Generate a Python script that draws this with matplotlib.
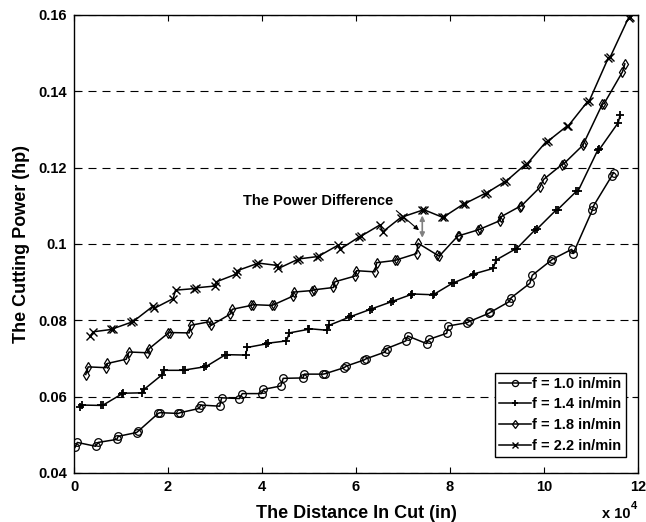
import numpy as np
import matplotlib.pyplot as plt

plt.rcParams['font.family'] = ['Liberation Sans', 'DejaVu Sans']
plt.rcParams['font.weight'] = 'bold'

# distance in cut, in units of 10^4 in ; cutting power in hp
dist_f10 = [0.02, 0.07, 0.46, 0.51, 0.91, 0.94, 1.33, 1.37, 1.79, 1.83, 2.22, 2.26, 2.66, 2.70,
            3.10, 3.14, 3.52, 3.58, 3.99, 4.03, 4.40, 4.45, 4.87, 4.90, 5.30, 5.34, 5.75, 5.79,
            6.17, 6.21, 6.62, 6.65, 7.06, 7.10, 7.50, 7.55, 7.93, 7.96, 8.37, 8.41, 8.82, 8.86,
            9.26, 9.30, 9.70, 9.75, 10.14, 10.18, 10.59, 10.62, 11.03, 11.05, 11.44, 11.48]
power_f10 = [0.0467, 0.0480, 0.0470, 0.0480, 0.0488, 0.0496, 0.0506, 0.0510, 0.0556, 0.0558,
             0.0556, 0.0558, 0.0569, 0.0578, 0.0575, 0.0597, 0.0595, 0.0608, 0.0608, 0.0619,
             0.0628, 0.0648, 0.0649, 0.0659, 0.0659, 0.0660, 0.0676, 0.0680, 0.0696, 0.0699,
             0.0717, 0.0726, 0.0746, 0.0759, 0.0739, 0.0750, 0.0766, 0.0785, 0.0794, 0.0797,
             0.0818, 0.0821, 0.0849, 0.0859, 0.0897, 0.0918, 0.0956, 0.0960, 0.0986, 0.0975,
             0.1089, 0.1099, 0.1178, 0.1187]

dist_f14 = [0.13, 0.16, 0.58, 0.62, 1.03, 1.05, 1.45, 1.49, 1.88, 1.91, 2.32, 2.36, 2.77, 2.81,
            3.21, 3.25, 3.65, 3.69, 4.08, 4.12, 4.52, 4.58, 4.97, 5.01, 5.38, 5.43, 5.85, 5.89,
            6.29, 6.33, 6.74, 6.78, 7.16, 7.20, 7.63, 7.67, 8.05, 8.09, 8.48, 8.52, 8.92, 8.98,
            9.38, 9.42, 9.81, 9.85, 10.25, 10.29, 10.69, 10.73, 11.14, 11.18, 11.58, 11.62]
power_f14 = [0.0572, 0.0578, 0.0577, 0.0578, 0.0608, 0.0609, 0.0610, 0.0619, 0.0658, 0.0669,
             0.0669, 0.0670, 0.0678, 0.0679, 0.0709, 0.0710, 0.0709, 0.0729, 0.0738, 0.0740,
             0.0746, 0.0767, 0.0776, 0.0778, 0.0774, 0.0787, 0.0808, 0.0810, 0.0828, 0.0830,
             0.0848, 0.0850, 0.0867, 0.0869, 0.0867, 0.0869, 0.0897, 0.0899, 0.0919, 0.0922,
             0.0936, 0.0958, 0.0986, 0.0988, 0.1037, 0.1039, 0.1088, 0.1090, 0.1138, 0.1140,
             0.1245, 0.1248, 0.1318, 0.1338]

dist_f18 = [0.25, 0.30, 0.67, 0.71, 1.11, 1.17, 1.56, 1.60, 2.00, 2.04, 2.45, 2.48, 2.87, 2.92,
            3.32, 3.37, 3.77, 3.81, 4.21, 4.25, 4.65, 4.67, 5.07, 5.11, 5.52, 5.55, 5.98, 6.01,
            6.40, 6.44, 6.84, 6.88, 7.29, 7.32, 7.73, 7.77, 8.16, 8.20, 8.60, 8.64, 9.06, 9.08,
            9.48, 9.52, 9.91, 9.99, 10.38, 10.42, 10.83, 10.85, 11.24, 11.28, 11.67, 11.72]
power_f18 = [0.0658, 0.0678, 0.0676, 0.0687, 0.0698, 0.0717, 0.0715, 0.0726, 0.0766, 0.0768,
             0.0767, 0.0787, 0.0796, 0.0787, 0.0816, 0.0829, 0.0839, 0.0841, 0.0839, 0.0841,
             0.0863, 0.0874, 0.0878, 0.0880, 0.0886, 0.0901, 0.0916, 0.0930, 0.0927, 0.0951,
             0.0957, 0.0959, 0.0975, 0.1002, 0.0971, 0.0968, 0.1020, 0.1022, 0.1037, 0.1039,
             0.1061, 0.1071, 0.1098, 0.1100, 0.1148, 0.1169, 0.1208, 0.1210, 0.1259, 0.1265,
             0.1366, 0.1368, 0.1451, 0.1472]

dist_f22 = [0.34, 0.41, 0.79, 0.83, 1.22, 1.26, 1.68, 1.70, 2.11, 2.16, 2.55, 2.59, 3.01, 3.03,
            3.45, 3.47, 3.88, 3.92, 4.31, 4.35, 4.75, 4.79, 5.18, 5.22, 5.62, 5.66, 6.06, 6.10,
            6.51, 6.57, 6.95, 6.99, 7.40, 7.44, 7.84, 7.88, 8.28, 8.32, 8.74, 8.78, 9.15, 9.19,
            9.60, 9.64, 10.04, 10.08, 10.48, 10.52, 10.92, 10.96, 11.37, 11.41, 11.80, 11.84]
power_f22 = [0.0758, 0.0770, 0.0776, 0.0778, 0.0795, 0.0797, 0.0837, 0.0831, 0.0857, 0.0879,
             0.0883, 0.0885, 0.0890, 0.0901, 0.0921, 0.0930, 0.0948, 0.0950, 0.0944, 0.0936,
             0.0959, 0.0961, 0.0967, 0.0969, 0.0997, 0.0986, 0.1018, 0.1020, 0.1050, 0.1032,
             0.1069, 0.1071, 0.1088, 0.1090, 0.1070, 0.1072, 0.1104, 0.1106, 0.1132, 0.1134,
             0.1162, 0.1164, 0.1208, 0.1210, 0.1267, 0.1269, 0.1308, 0.1310, 0.1372, 0.1374,
             0.1488, 0.1490, 0.1593, 0.1595]

labels = ['f = 1.0 in/min', 'f = 1.4 in/min', 'f = 1.8 in/min', 'f = 2.2 in/min']
xticks = [0, 2, 4, 6, 8, 10, 12]
yticks = [0.04, 0.06, 0.08, 0.1, 0.12, 0.14, 0.16]
ytick_labels = ['0.04', '0.06', '0.08', '0.1', '0.12', '0.14', '0.16']

fig = plt.figure(figsize=(6.46, 5.22), dpi=100)
ax = fig.add_axes([0.1146, 0.0939, 0.8730, 0.8774])

lw = 1.1
ax.plot(dist_f10, power_f10, '-', color='k', lw=lw, marker='o', ms=5.5, mfc='none', mew=0.9, label=labels[0])
ax.plot(dist_f14, power_f14, '-', color='k', lw=lw, marker='+', ms=5.5, mew=1.3, label=labels[1])
ax.plot(dist_f18, power_f18, '-', color='k', lw=lw, marker='d', ms=5.5, mfc='none', mew=0.9, label=labels[2])
ax.plot(dist_f22, power_f22, '-', color='k', lw=lw, marker='x', ms=5.5, mew=1.0, label=labels[3])

ax.set_xlim(0, 12)
ax.set_ylim(0.04, 0.16)
ax.set_xticks(xticks)
ax.set_xticklabels([str(t) for t in xticks])
ax.set_yticks(yticks)
ax.set_yticklabels(ytick_labels)
ax.tick_params(direction='in', top=True, right=True, length=4, width=0.8, labelsize=10.5, pad=5)
for s in ax.spines.values():
    s.set_linewidth(1.0)
ax.yaxis.grid(True, color='k', linestyle=(0, (7.2, 5.4)), linewidth=0.8)
ax.set_axisbelow(True)

ax.set_xlabel('The Distance In Cut (in)', fontsize=13, fontweight='bold', labelpad=8)
ax.set_ylabel('The Cutting Power (hp)', fontsize=13, fontweight='bold', labelpad=6)

# exponent for the distance axis
ax.text(0.986, -0.0895, 'x 10', transform=ax.transAxes, fontsize=10.5, fontweight='bold', ha='right', va='center')
ax.text(0.988, -0.072, '4', transform=ax.transAxes, fontsize=8, fontweight='bold', ha='left', va='center')

# power difference between f = 1.8 and f = 2.2 at the peak
ax.annotate('', xy=(7.41, 0.1082), xytext=(7.41, 0.1009),
            arrowprops=dict(arrowstyle='<|-|>', color='0.5', lw=1.2, mutation_scale=7))
ax.annotate('The Power Difference', xy=(7.34, 0.1036), xytext=(5.2, 0.1112),
            fontsize=10.5, fontweight='bold', ha='center', va='center',
            arrowprops=dict(arrowstyle='-|>', color='k', lw=0.8, mutation_scale=7,
                            shrinkA=0, shrinkB=0, relpos=(1.0, 0.0)))

leg = ax.legend(loc='lower right', bbox_to_anchor=(0.9787, 0.0349), borderaxespad=0,
                fancybox=False, edgecolor='k', framealpha=1, fontsize=10.5,
                handlelength=2.2, handletextpad=0.1, labelspacing=0.45, borderpad=0.3,
                markerscale=0.8)
leg.get_frame().set_linewidth(1.0)

fig.savefig('out.png', dpi=100)
